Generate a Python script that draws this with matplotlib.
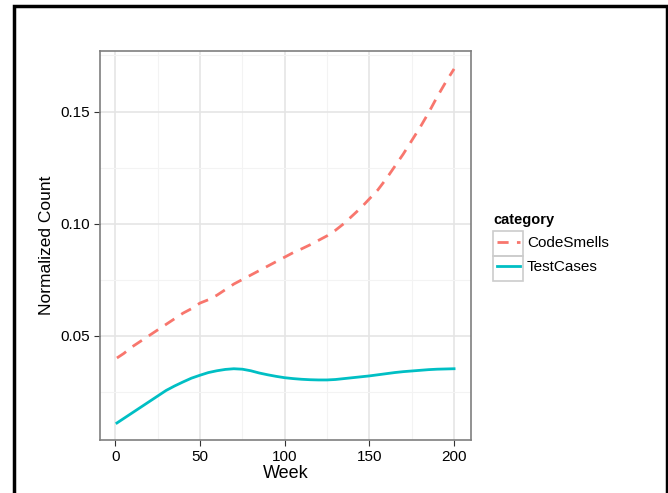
import numpy as np
import matplotlib.pyplot as plt
from matplotlib.patches import Rectangle

plt.rcParams['font.family'] = ['Liberation Sans', 'DejaVu Sans']

weeks = [1] + list(range(5, 201, 5))
code_smells = [0.040, 0.042, 0.045, 0.0475, 0.050, 0.0525, 0.055, 0.0575, 0.060, 0.062,
               0.0645, 0.066, 0.068, 0.0705, 0.073, 0.075, 0.077, 0.079, 0.081, 0.083,
               0.085, 0.087, 0.0887, 0.0905, 0.0925, 0.0945, 0.097, 0.100, 0.1035, 0.107,
               0.111, 0.115, 0.120, 0.1255, 0.131, 0.137, 0.143, 0.1495, 0.1565, 0.163,
               0.169]
test_cases = [0.011, 0.013, 0.0155, 0.018, 0.0205, 0.023, 0.0255, 0.0275, 0.0293, 0.031,
              0.0323, 0.0335, 0.0343, 0.0349, 0.0352, 0.035, 0.0343, 0.0333, 0.0325, 0.0318,
              0.0312, 0.0308, 0.0305, 0.0303, 0.0302, 0.0302, 0.0304, 0.0308, 0.0312, 0.0316,
              0.032, 0.0325, 0.033, 0.0335, 0.0339, 0.0342, 0.0345, 0.0348, 0.035, 0.0351,
              0.0352]
x_ticks = [0, 50, 100, 150, 200]
y_ticks = [0.05, 0.10, 0.15]
y_labels = ['0.05', '0.10', '0.15']

W, H = 668, 493
fig = plt.figure(figsize=(W / 100, H / 100), dpi=100)
ax = fig.add_axes([100 / W, 1 - 440 / H, 371 / W, 389 / H])

# outer black frame of the screenshot
fig.patches.append(Rectangle((14 / W, -0.05), 653 / W, (H - 6) / H + 0.05,
                             transform=fig.transFigure, fill=False,
                             edgecolor='black', linewidth=2.5))

ax.plot(weeks, code_smells, color='#F8766D', linewidth=2, dashes=(4, 3), label='CodeSmells')
ax.plot(weeks, test_cases, color='#00BFC4', linewidth=2, label='TestCases')

ax.set_xlim(-9, 210)
ax.set_ylim(0.0034, 0.177)
ax.set_xticks(x_ticks)
ax.set_yticks(y_ticks)
ax.set_yticklabels(y_labels)
ax.set_xticks([25, 75, 125, 175], minor=True)
ax.set_yticks([0.025, 0.075, 0.125, 0.175], minor=True)
ax.tick_params(which='minor', length=0)
ax.tick_params(which='major', length=4, color='#333333', labelsize=11,
               labelcolor='black', pad=3)
ax.grid(which='major', color='#E5E5E5', linewidth=1.2)
ax.grid(which='minor', color='#F3F3F3', linewidth=0.8)
ax.set_axisbelow(True)
for s in ax.spines.values():
    s.set_color('#7F7F7F')
    s.set_linewidth(1.2)

ax.set_xlabel('Week', fontsize=13, labelpad=1)
ax.set_ylabel('Normalized Count', fontsize=12.5, labelpad=5)

# legend, with ggplot-like key boxes
leg = fig.legend(title='category', loc='upper left',
                 bbox_to_anchor=(497 / W, 1 - 213 / H), bbox_transform=fig.transFigure,
                 frameon=False, fontsize=11, handlelength=1.5, borderaxespad=0,
                 borderpad=0, handletextpad=0.45, labelspacing=0.62)
leg.get_title().set_fontweight('bold')
leg.get_title().set_fontsize(10.5)
leg.get_title().set_position((-4, 0))
leg._legend_box.align = 'left'
for i in range(2):
    fig.patches.append(Rectangle((493 / W, 1 - (256 + 25 * i) / H), 30 / W, 25 / H,
                                 transform=fig.transFigure, fill=False,
                                 edgecolor='#CCCCCC', linewidth=1.2))

fig.savefig('out.png', dpi=100)
